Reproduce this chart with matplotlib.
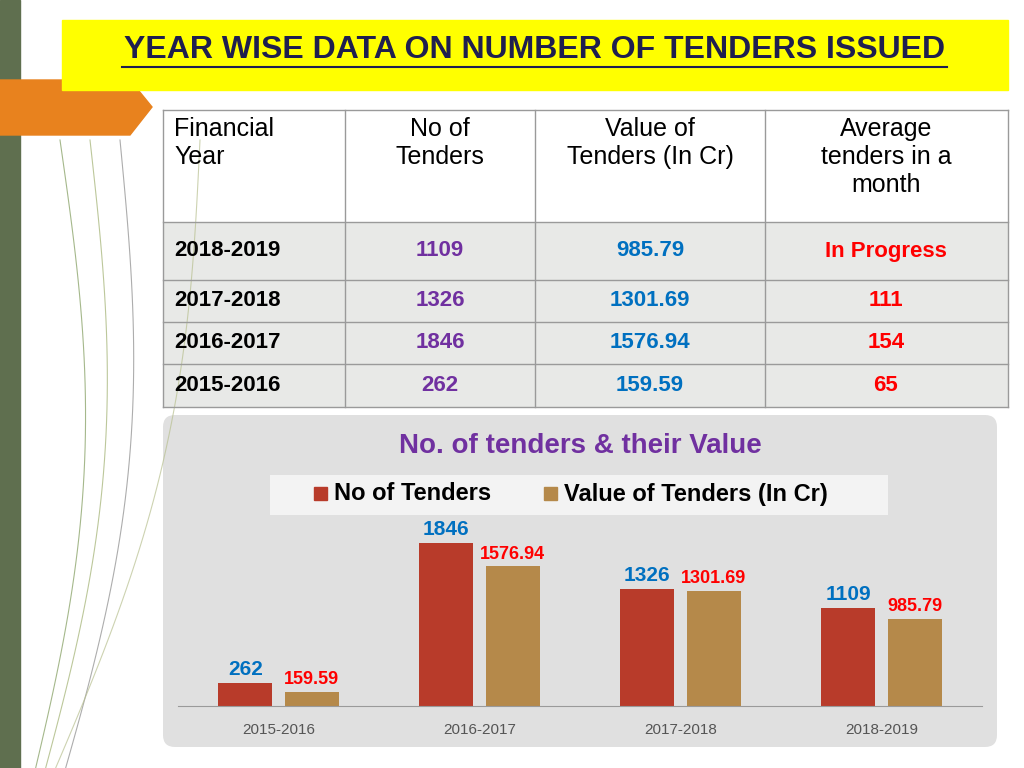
import matplotlib
matplotlib.use("Agg")
import matplotlib.pyplot as plt
from matplotlib.patches import Rectangle, Polygon, FancyBboxPatch
import numpy as np

years = ["2015-2016", "2016-2017", "2017-2018", "2018-2019"]
tenders = [262, 1846, 1326, 1109]
values = [159.59, 1576.94, 1301.69, 985.79]
table_years = ["2018-2019", "2017-2018", "2016-2017", "2015-2016"]
table_tenders = ["1109", "1326", "1846", "262"]
table_values = ["985.79", "1301.69", "1576.94", "159.59"]
table_avg = ["In Progress", "111", "154", "65"]
headers = ["Financial\nYear", "No of\nTenders", "Value of\nTenders (In Cr)", "Average\ntenders in a\nmonth"]

plt.rcParams["font.family"] = "Liberation Sans"
fig = plt.figure(figsize=(10.24, 7.68), dpi=100)
bg = fig.add_axes([0, 0, 1, 1])
bg.set_xlim(0, 1024); bg.set_ylim(768, 0); bg.axis("off")

# decorations
bg.add_patch(Rectangle((0, 0), 20, 768, color="#5f6f4f"))
for x0, x1, c in [(60, 30, "#7f9a5a"), (90, 40, "#a0b070"), (120, 60, "#8a8a8a"), (200, 50, "#b8c090")]:
    t = np.linspace(0, 1, 50)
    bg.plot(x0 + (x1 - x0) * t + 40 * np.sin(t * 3), 140 + 628 * t, color=c, lw=0.8, alpha=0.7)
bg.add_patch(Polygon([(0, 80), (130, 80), (152, 107), (130, 135), (0, 135)], color="#e8821e"))
bg.add_patch(Rectangle((62, 20), 946, 70, color="#ffff00"))
bg.text(535, 50, "YEAR WISE DATA ON NUMBER OF TENDERS ISSUED", ha="center", va="center",
        fontsize=23, fontweight="bold", color="#1f1f4f")
bg.plot([122, 947], [67, 67], color="#1f1f4f", lw=1.5)

# table
cols = [163, 345, 535, 765, 1008]
rows = [110, 222, 280, 322, 364, 407]
bg.add_patch(Rectangle((163, 110), 845, 112, facecolor="white", edgecolor="none"))
bg.add_patch(Rectangle((163, 222), 845, 185, facecolor="#e8e9e7", edgecolor="none"))
for y in rows:
    bg.plot([163, 1008], [y, y], color="#9a9a9a", lw=1)
for x in cols:
    bg.plot([x, x], [110, 407], color="#9a9a9a", lw=1)
for i, h in enumerate(headers):
    if i == 0:
        bg.text(174, 117, h, ha="left", va="top", fontsize=18, linespacing=1.2, multialignment="left")
    else:
        bg.text((cols[i] + cols[i + 1]) / 2, 117, h, ha="center", va="top", fontsize=18,
                linespacing=1.2, multialignment="center")
for r in range(4):
    yc = (rows[r + 1] + rows[r + 2]) / 2
    bg.text(174, yc, table_years[r], ha="left", va="center", fontsize=16, fontweight="bold")
    bg.text(440, yc, table_tenders[r], ha="center", va="center", fontsize=16, fontweight="bold", color="#7030a0")
    bg.text(650, yc, table_values[r], ha="center", va="center", fontsize=16, fontweight="bold", color="#0070c0")
    bg.text(886, yc, table_avg[r], ha="center", va="center", fontsize=16, fontweight="bold", color="#ff0000")

# chart panel
grad = np.linspace(1, 0.82, 256)
img = np.outer(np.ones(10), grad)
panel = FancyBboxPatch((168, 420), 824, 322, boxstyle="round,pad=5,rounding_size=12",
                       facecolor="#e0e0e0", edgecolor="none")
bg.add_patch(panel)
bg.text(580, 446, "No. of tenders & their Value", ha="center", va="center",
        fontsize=20, fontweight="bold", color="#7030a0")
bg.add_patch(Rectangle((270, 475), 618, 40, facecolor="#f3f3f3", edgecolor="none"))
bg.add_patch(Rectangle((314, 487), 13, 13, color="#b83b2a"))
bg.text(334, 494, "No of Tenders", va="center", fontsize=17, fontweight="bold")
bg.add_patch(Rectangle((544, 487), 13, 13, color="#b5894a"))
bg.text(564, 494, "Value of Tenders (In Cr)", va="center", fontsize=17, fontweight="bold")

# bar chart
ax = fig.add_axes([178 / 1024, (768 - 706) / 768, 804 / 1024, (706 - 529) / 768])
ax.patch.set_alpha(0)
x = np.arange(len(years))
w = 0.27
ax.bar(x - 0.165, tenders, w, color="#b83b2a")
ax.bar(x + 0.165, values, w, color="#b5894a")
ax.set_xlim(-0.5, 3.5); ax.set_ylim(0, 2000)
for s in ["top", "left", "right"]:
    ax.spines[s].set_visible(False)
ax.spines["bottom"].set_color("#9a9a9a")
ax.set_yticks([])
ax.set_xticks(x)
ax.set_xticklabels(years, fontsize=11, color="#555555")
ax.tick_params(axis="x", length=0, pad=12)
for i in range(4):
    ax.text(x[i] - 0.165, tenders[i] + 40, str(tenders[i]), ha="center", va="bottom",
            fontsize=15, fontweight="bold", color="#0070c0", clip_on=False)
    ax.text(x[i] + 0.165, values[i] + 40, f"{values[i]:.2f}", ha="center", va="bottom",
            fontsize=13, fontweight="bold", color="#ff0000", clip_on=False)

fig.savefig("out.png", dpi=100)
